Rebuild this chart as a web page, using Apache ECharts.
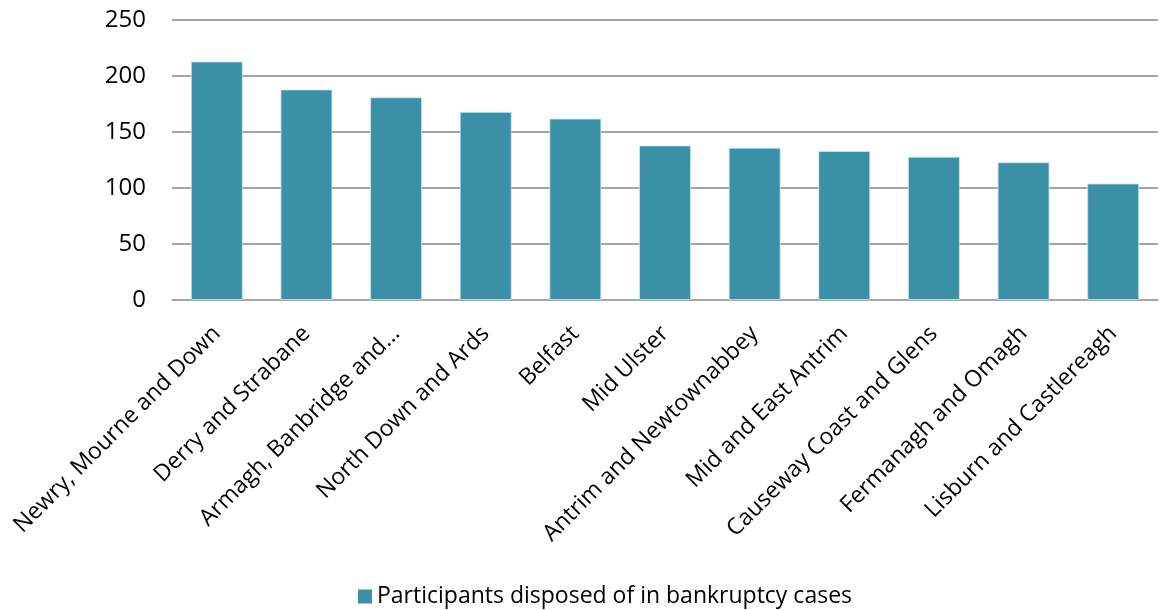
<!DOCTYPE html>
<html>
<head>
<meta charset="utf-8">
<script src="https://cdn.jsdelivr.net/npm/echarts@6/dist/echarts.min.js"></script>
<style>
  html, body { margin: 0; padding: 0; background: #fff; }
  #chart { width: 1176px; height: 610px; }
</style>
</head>
<body>
<div id="chart"></div>
<script>
// 地区
const districts = [
  'Newry, Mourne and Down',
  'Derry and Strabane',
  'Armagh, Banbridge and...',
  'North Down and Ards',
  'Belfast',
  'Mid Ulster',
  'Antrim and Newtownabbey',
  'Mid and East Antrim',
  'Causeway Coast and Glens',
  'Fermanagh and Omagh',
  'Lisburn and Castlereagh'
];

// 参与人数
const participants = [213, 188, 181, 168, 162, 138, 136, 133, 128, 123, 104];

const seriesName = 'Participants disposed of in bankruptcy cases';

const chart = echarts.init(document.getElementById('chart'));
chart.setOption({
  animation: false,
  textStyle: { fontFamily: 'Open Sans' },
  grid: {
    left: 172,
    right: 18,
    top: 20,
    bottom: 310
  },
  legend: {
    left: 353,
    top: 580,
    itemWidth: 14,
    itemHeight: 14,
    itemGap: 8,
    icon: 'rect',
    itemStyle: { borderWidth: 0 },
    textStyle: { fontSize: 23, color: '#000', fontFamily: 'Open Sans' },
    data: [seriesName]
  },
  xAxis: {
    type: 'category',
    data: districts,
    axisLine: { lineStyle: { color: '#a6a6a6', width: 1.5 } },
    axisTick: { show: false },
    axisLabel: {
      interval: 0,
      rotate: 45,
      margin: 30,
      fontSize: 23,
      color: '#000',
      fontFamily: 'Open Sans'
    }
  },
  yAxis: {
    type: 'value',
    min: 0,
    max: 250,
    interval: 50,
    axisLine: { show: false },
    axisTick: { show: false },
    axisLabel: {
      margin: 26,
      fontSize: 24,
      color: '#000',
      fontFamily: 'Open Sans'
    },
    splitLine: { lineStyle: { color: '#868686', width: 1.5 } }
  },
  series: [{
    name: seriesName,
    type: 'bar',
    data: participants,
    barCategoryGap: '42%',
    itemStyle: {
      color: '#3a90a7',
      borderColor: 'rgba(200,230,240,0.8)',
      borderWidth: 1
    }
  }]
});
</script>
</body>
</html>
